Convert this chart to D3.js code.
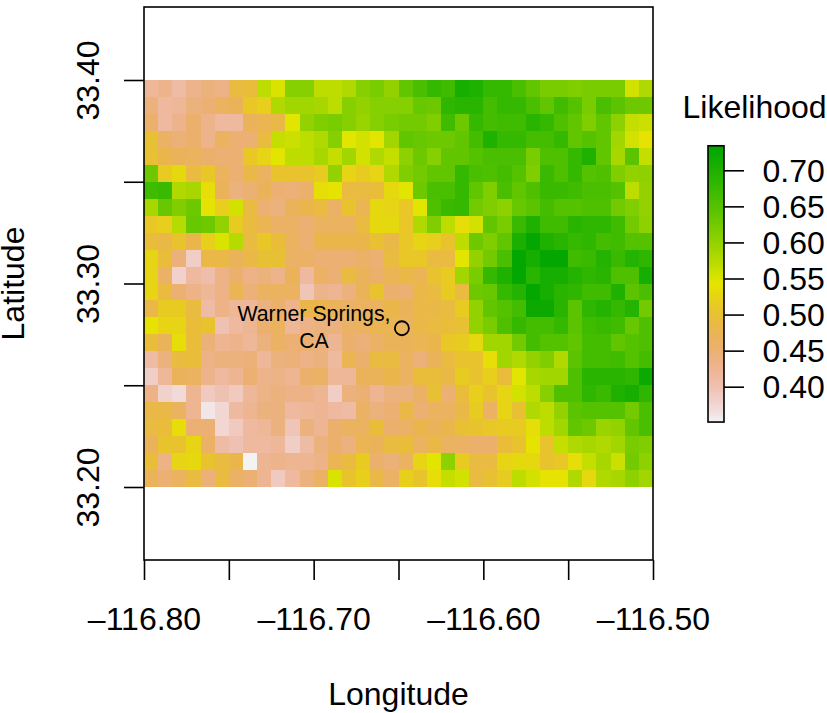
<!DOCTYPE html>
<html>
<head>
<meta charset="utf-8">
<script src="https://cdn.jsdelivr.net/npm/d3@7/dist/d3.min.js"></script>
<style>
html,body{margin:0;padding:0;background:#fff;}
svg{display:block;}
text{font-family:"Liberation Sans",Arial,sans-serif;fill:#000;}
</style>
</head>
<body>
<svg id="chart" width="827" height="713"></svg>
<script>
const lonTicks = [-116.80,-116.75,-116.70,-116.65,-116.60,-116.55,-116.50];
const lonLabels = ["\u2013116.80","","\u2013116.70","","\u2013116.60","","\u2013116.50"];
const latTicks = [33.20,33.25,33.30,33.35,33.40];
const latLabels = ["33.20","","33.30","","33.40"];
const legendTicks = [0.40,0.45,0.50,0.55,0.60,0.65,0.70];
const legendRange = [0.351,0.734];
const lonExtent = [-116.80,-116.50];
const latExtent = [33.20,33.40];
const site = {lon:-116.648, lat:33.278};
const siteLabel = ["Warner Springs,","CA"];
// likelihood x 100, north to south, west to east (36 columns, 24 rows)
const likelihood = [
[42,43,41,43,44,43.5,49,49.5,57,55,61,61,57,57,58,61,62,60,64,66,68,67,71,70,68,68,66,64,62,62,61.5,62,62,62,55.5,58],
[44,41.5,42,44,45,46.5,47,51,52,58,59,59,58.5,57,61,60,61,61,61,63.5,63,68.5,69,69,66.5,68,68,66,64,67,65,62,66,64.5,63,63],
[45.5,41.5,43,45.5,43,41.5,41.5,47,47.5,48.5,54.5,60,61.5,62,61,59.5,61,62,62.5,62.5,61.5,67,63,68,66.5,67,67,69,68,65.5,64,61.5,64,60.5,56.5,56],
[50,46,44.5,45.5,43,46.5,45,45,49,56.5,56,57,58,61,54.5,55.5,54.5,59,64,63.5,63,63,64,66.5,70,68,68,66.5,66.5,68,64,65,64,59,55.5,54],
[50,48,47,46.5,45.5,45,45,51,52.5,54.5,57,57,58.5,56.5,59,55.5,58,56.5,60.5,63,61,64,64,65,66,66,66,62,65.5,65.5,68,70,64,58.5,64.5,56.5],
[63,51.5,53,49,51,46.5,45,48.5,46.5,50.5,50.5,50.5,51.5,60,52.5,51.5,52.5,58,61.5,62.5,64,64,68,66,65.5,66.5,65,61.5,67.5,65.5,68,65,65.5,61.5,60,60.5],
[67,67.5,58,58.5,53.5,47,44,45,47,45,44.5,45.5,53.5,54,49,49,49.5,53,54.5,63,66,66,68,64,61.5,66,64,65.5,67.5,67.5,67,66,66,65,57,60],
[58.5,63.5,61.5,63,54,52,55.5,49,45,44,47,48,49,46,50.5,47.5,53,52.5,51,54.5,65.5,67.5,68,62.5,61.5,60.5,63.5,64.5,66.5,65,65,65.5,65.5,62.5,61.5,60],
[51,52,57.5,63.5,63,60,51.5,49,47.5,46,46,45,46.5,46.5,46.5,49,53,53,51,58,61.5,57,53.5,55.5,64,62,67.5,70,67,67,69,68.5,68.5,67,62.5,60.5],
[49.5,48.5,50.5,48,52,55,57.5,49,51,49.5,46.5,45,48,48,48,48,50,48.5,51,52.5,52,50.5,57,63,61.5,64,70.5,73,70,69,68,68.5,66.5,67,65,65],
[52.5,49.5,44.5,38.5,48.5,48.5,47,48.5,50,50,46,46,45,45,45,46,45,49,51,51,49,49,54.5,60,62.5,66,73,71,73,73,67,67.5,69.5,67.5,69.5,68.5],
[52.5,46,38,41.5,40.5,43.5,45.5,43.5,44,43,47,41.5,46,45,49,47,45.5,47.5,48.5,47.5,50.5,51.5,59,62,68,70,73,69,71,71,69.5,68.5,69,65.5,65.5,71],
[52.5,49,45,43.5,42,43.5,47.5,44.5,46.5,46.5,46.5,39.5,43,42.5,44,47,50.5,45.5,45,48.5,49,51.5,49,63,63.5,68,69.5,73,71,69,68.5,67,67,70,64.5,66],
[48.5,51.5,51.5,49,41,43.5,42,42,44,45.5,43,48,48,47,46,46.5,46.5,48,47,48.5,48.5,49,51.5,60,64,65,66.5,72,72,69,64.5,68.5,69.5,68,69.5,62.5],
[54,52.5,52.5,49.5,50.5,40,41.5,42.5,45.5,46.5,42,43.5,44,44,46,46.5,47.5,47.5,46.5,48.5,49,49.5,50,60,62,65.5,68,66.5,66.5,68,64.5,67,67.5,67,63.5,65.5],
[49.5,47,53.5,49.5,44.5,42.5,43,42,44,46,45,45,44,42.5,45.5,44.5,46,47,47,47.5,48,51,51.5,53,59,59,62.5,66.5,65,65,64,66.5,66.5,64,65,65.5],
[41,44,49,49.5,43.5,44,44,44.5,42,44,44.5,43.5,44,41.5,47.5,45.5,49,49,46.5,44.5,47,49,50.5,50.5,53.5,59,58,60,61.5,58,64.5,66.5,66.5,67,65,66.5],
[38.5,42,47,46.5,43,41.5,42.5,45,43,43.5,42.5,45.5,46,42,42,47,47,48,46.5,49.5,49.5,48.5,51.5,50.5,52,49.5,54.5,58.5,59,59,65.5,69,69,69,68.5,72],
[43.5,38,37,42.5,39,40,39,42,43.5,44,43.5,43.5,42.5,38.5,44,45,42.5,44,44,46,50,45,49.5,52,50.5,52.5,55.5,57,61,65.5,65.5,68.5,67.5,70,71,68.5],
[48.5,48.5,46.5,42.5,36,37.5,41.5,42.5,44,44,41.5,42,42.5,41.5,41,46,44,45,48.5,45,46.5,46.5,48.5,51.5,46,52.5,50,58,57,60,64.5,65,65,65,62.5,66],
[49,49.5,53.5,45,45,37.5,39,41.5,42,44,39.5,44,42.5,45.5,46.5,46.5,49.5,45.5,46,48,47,48,50,50.5,51,51.5,51.5,53.5,57,59,64,63,59.5,60,64,66],
[47,50.5,50.5,52.5,46,41,40,41.5,41.5,42,38.5,41,44,45.5,44,47.5,47,49,49.5,46.5,48.5,46.5,46,45.5,45.5,49.5,50.5,54,50.5,56.5,58,58.5,58,59,62,61.5],
[49.5,43.5,52.5,53,50.5,49,48,35,42.5,43,42.5,42.5,43.5,47.5,49,51.5,45.5,44.5,46.5,52.5,54.5,60.5,51.5,49,49,52.5,53,53,50.5,51,53.5,56.5,58.5,56,62.5,60.5],
[47,45,46.5,49,44.5,49,46,45,42.5,39,41.5,44,46,55,50.5,52,48.5,46,52,50.5,53.5,56.5,55.5,49,50,51.5,57,55.5,54,54,58,53,58,58.5,60.5,59]
];

const svg = d3.select("#chart");
const x = d3.scaleLinear().domain(lonExtent).range([144,653]);
const y = d3.scaleLinear().domain(latExtent).range([487,80]);
const nRows = likelihood.length, nCols = likelihood[0].length;
const dLon = (lonExtent[1]-lonExtent[0])/nCols, dLat = (latExtent[1]-latExtent[0])/nRows;

// terrain.colors ramp, interpolated in HSV
const mid = (legendRange[0]+legendRange[1])/2;
const dom = [legendRange[1],mid,legendRange[0]];
const hS = d3.scaleLinear().domain(dom).range([120,60,0]);
const sS = d3.scaleLinear().domain(dom).range([1,1,0]);
const vS = d3.scaleLinear().domain(dom).range([0.65,0.9,0.95]);
function hsv(h,s,v){
  const f = n => { const k=(n+h/60)%6; return v-v*s*Math.max(0,Math.min(k,4-k,1)); };
  return d3.rgb(f(5)*255,f(3)*255,f(1)*255).formatHex();
}
const color = val => hsv(hS(val),sS(val),vS(val));

const cells = likelihood.flatMap((row,r)=>row.map((val,c)=>({r,c,val:val/100})));
svg.append("g").attr("shape-rendering","crispEdges").selectAll("rect").data(cells).join("rect")
  .attr("x",d=>x(lonExtent[0]+d.c*dLon))
  .attr("y",d=>y(latExtent[1]-d.r*dLat))
  .attr("width",d=>x(lonExtent[0]+(d.c+1)*dLon)-x(lonExtent[0]+d.c*dLon))
  .attr("height",d=>y(latExtent[1]-(d.r+1)*dLat)-y(latExtent[1]-d.r*dLat))
  .attr("fill",d=>color(d.val));

// frame
svg.append("rect").attr("x",144).attr("y",7).attr("width",509).attr("height",553)
  .attr("fill","none").attr("stroke","#000").attr("stroke-width",1.6);

// axes
const xAxis = svg.append("g").attr("transform","translate(0,560)")
  .call(d3.axisBottom(x).tickValues(lonTicks).tickSize(20).tickFormat((d,i)=>lonLabels[i]));
xAxis.select(".domain").remove();
xAxis.selectAll("line").attr("stroke","#000").attr("stroke-width",1.6);
xAxis.selectAll("text").attr("y",70).attr("dy",0).attr("font-size",32).attr("fill","#000")
  .style("font-family",'"Liberation Sans",Arial,sans-serif');

const yAxis = svg.append("g").attr("transform","translate(144,0)")
  .call(d3.axisLeft(y).tickValues(latTicks).tickSize(20).tickFormat((d,i)=>latLabels[i]));
yAxis.select(".domain").remove();
yAxis.selectAll("line").attr("stroke","#000").attr("stroke-width",1.6);
yAxis.selectAll("text").attr("x",0).attr("y",-45.3).attr("dy",0)
  .attr("transform","rotate(-90)").attr("text-anchor","middle")
  .attr("font-size",32).attr("fill","#000")
  .style("font-family",'"Liberation Sans",Arial,sans-serif');

svg.append("text").attr("x",398.5).attr("y",705).attr("text-anchor","middle").attr("font-size",32).text("Longitude");
svg.append("text").attr("transform","translate(24,283.5) rotate(-90)").attr("text-anchor","middle").attr("font-size",32).text("Latitude");

// site marker and label
svg.append("circle").attr("cx",x(site.lon)).attr("cy",y(site.lat)).attr("r",7)
  .attr("fill","none").attr("stroke","#000").attr("stroke-width",1.8);
svg.append("g").selectAll("text").data(siteLabel).join("text")
  .attr("x",314).attr("y",(d,i)=>320.5+i*27).attr("text-anchor","middle").attr("font-size",21.3).text(d=>d);

// legend
const lg = d3.scaleLinear().domain([0.40,0.70]).range([386.7,170.3]);
const steps = d3.range(0,128);
const stepV = i => legendRange[0]+(legendRange[1]-legendRange[0])*i/128;
svg.append("g").attr("shape-rendering","crispEdges").selectAll("rect").data(steps).join("rect")
  .attr("x",708).attr("width",16)
  .attr("y",i=>lg(stepV(i+1))-0.3)
  .attr("height",i=>lg(stepV(i))-lg(stepV(i+1))+0.6)
  .attr("fill",i=>color(stepV(i+0.5)));
svg.append("rect").attr("x",708).attr("y",lg(legendRange[1])).attr("width",16)
  .attr("height",lg(legendRange[0])-lg(legendRange[1]))
  .attr("fill","none").attr("stroke","#000").attr("stroke-width",1.6);
const lAxis = svg.append("g").attr("transform","translate(724,0)")
  .call(d3.axisRight(lg).tickValues(legendTicks).tickSize(20).tickFormat(d3.format(".2f")));
lAxis.select(".domain").remove();
lAxis.selectAll("line").attr("stroke","#000").attr("stroke-width",1.6);
lAxis.selectAll("text").attr("x",38.5).attr("dy",11).attr("font-size",32).attr("fill","#000")
  .style("font-family",'"Liberation Sans",Arial,sans-serif');
svg.append("text").attr("x",682.5).attr("y",118).attr("font-size",32).text("Likelihood");
</script>
</body>
</html>
